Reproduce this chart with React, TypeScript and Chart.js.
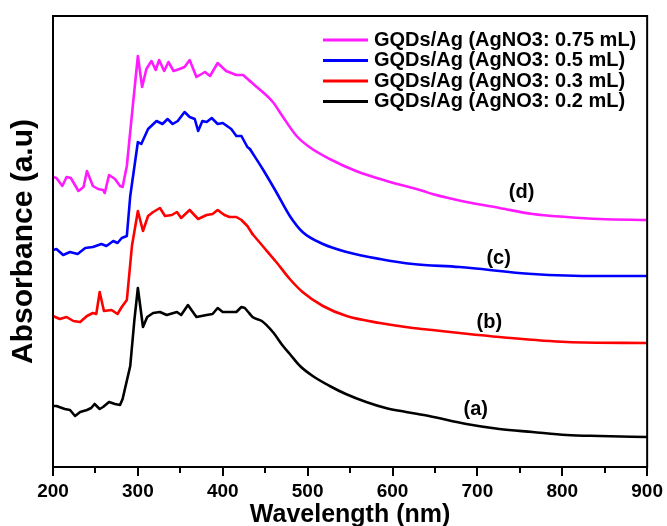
import React, { useEffect, useRef } from 'react';
import { Chart, registerables } from 'chart.js';

Chart.register(...registerables);

const FONT = '"Liberation Sans", Arial, Helvetica, sans-serif';

// x axis ticks (nm)
const majorTicks = [200, 300, 400, 500, 600, 700, 800, 900];
const minorTicks = [250, 350, 450, 550, 650, 750, 850];

// (a) GQDs/Ag (AgNO3: 0.2 mL)
const wlA = [200, 204, 214, 220, 226, 232, 240, 245, 249, 255, 259, 266, 273, 279, 282, 291, 296, 300, 306, 311, 318, 326, 334, 346, 351, 359, 369, 381, 388, 394, 400, 411, 416, 422, 426, 432, 435, 446, 459, 471, 479, 491, 506, 526, 545, 569, 592, 616, 643, 687, 726, 765, 805, 844, 900];
const absA = [0.61, 0.61, 0.58, 0.57, 0.51, 0.55, 0.57, 0.59, 0.63, 0.58, 0.60, 0.65, 0.63, 0.62, 0.68, 1.01, 1.48, 1.79, 1.40, 1.50, 1.54, 1.55, 1.52, 1.55, 1.52, 1.62, 1.50, 1.52, 1.53, 1.59, 1.55, 1.55, 1.55, 1.60, 1.59, 1.53, 1.50, 1.46, 1.35, 1.21, 1.13, 1.01, 0.91, 0.81, 0.73, 0.65, 0.59, 0.55, 0.51, 0.43, 0.38, 0.35, 0.32, 0.31, 0.30];

// (b) GQDs/Ag (AgNO3: 0.3 mL)
const wlB = [200, 208, 216, 224, 232, 240, 247, 251, 255, 260, 269, 276, 281, 287, 293, 300, 306, 312, 318, 326, 332, 340, 346, 351, 361, 371, 381, 388, 394, 402, 408, 416, 422, 429, 435, 447, 463, 479, 494, 518, 546, 585, 624, 647, 679, 726, 805, 900];
const absB = [1.51, 1.48, 1.50, 1.46, 1.45, 1.51, 1.54, 1.53, 1.75, 1.56, 1.57, 1.53, 1.60, 1.67, 2.21, 2.56, 2.36, 2.51, 2.55, 2.59, 2.51, 2.52, 2.55, 2.49, 2.57, 2.48, 2.52, 2.53, 2.57, 2.52, 2.50, 2.50, 2.47, 2.41, 2.33, 2.21, 2.05, 1.88, 1.75, 1.61, 1.51, 1.44, 1.39, 1.37, 1.34, 1.30, 1.25, 1.24];

// (c) GQDs/Ag (AgNO3: 0.5 mL)
const wlC = [200, 204, 212, 220, 229, 238, 247, 257, 263, 271, 276, 281, 287, 291, 300, 304, 312, 322, 329, 335, 341, 347, 355, 361, 367, 371, 376, 381, 387, 394, 400, 410, 416, 422, 429, 432, 447, 463, 479, 494, 518, 546, 585, 624, 679, 765, 844, 900];
const absC = [2.17, 2.18, 2.12, 2.15, 2.13, 2.19, 2.20, 2.23, 2.21, 2.26, 2.24, 2.29, 2.31, 2.71, 3.25, 3.23, 3.38, 3.46, 3.43, 3.48, 3.43, 3.46, 3.55, 3.50, 3.48, 3.36, 3.46, 3.45, 3.49, 3.43, 3.44, 3.38, 3.31, 3.31, 3.20, 3.18, 2.98, 2.75, 2.51, 2.35, 2.23, 2.15, 2.08, 2.03, 2.00, 1.93, 1.91, 1.91];

// (d) GQDs/Ag (AgNO3: 0.75 mL)
const wlD = [200, 204, 211, 216, 221, 230, 236, 240, 247, 253, 259, 261, 266, 273, 279, 282, 287, 294, 300, 305, 310, 316, 321, 325, 331, 336, 342, 349, 355, 361, 369, 379, 385, 394, 404, 416, 424, 432, 440, 447, 459, 471, 487, 502, 526, 557, 593, 636, 647, 687, 726, 765, 805, 844, 900];
const absD = [2.90, 2.89, 2.81, 2.90, 2.89, 2.76, 2.80, 2.96, 2.81, 2.78, 2.77, 2.74, 2.92, 2.88, 2.81, 2.80, 3.01, 3.61, 4.11, 3.80, 3.98, 4.06, 3.97, 4.07, 3.96, 4.05, 3.96, 3.98, 4.00, 4.07, 3.90, 3.95, 3.91, 4.04, 3.96, 3.92, 3.92, 3.86, 3.80, 3.75, 3.65, 3.50, 3.31, 3.20, 3.08, 2.96, 2.86, 2.76, 2.73, 2.65, 2.59, 2.53, 2.50, 2.48, 2.47];

const seriesLabels = [
  'GQDs/Ag (AgNO3: 0.75 mL)',
  'GQDs/Ag (AgNO3: 0.5 mL)',
  'GQDs/Ag (AgNO3: 0.3 mL)',
  'GQDs/Ag (AgNO3: 0.2 mL)',
];
const seriesColors = ['#ff1aff', '#0000ff', '#ff0000', '#000000'];

// the noisy UV part is drawn as a polyline, the smooth tail from here on as a smooth curve
const smoothFromNm = 430;

// curve tags
const tagTexts = ['(d)', '(c)', '(b)', '(a)'];
const tagWl = [752, 725, 714, 698];
const tagAbs = [2.75, 2.09, 1.45, 0.58];

const toPoints = (xs: number[], ys: number[]) => xs.map((x, i) => ({ x, y: ys[i] }));

const framePlugin = {
  id: 'frameAndMinor',
  afterDraw(chart: any) {
    const { ctx, chartArea } = chart;
    const xs = chart.scales.x;
    ctx.save();
    ctx.strokeStyle = '#000';
    ctx.lineWidth = 2;
    ctx.strokeRect(chartArea.left, chartArea.top, chartArea.right - chartArea.left, chartArea.bottom - chartArea.top);
    ctx.beginPath();
    minorTicks.forEach((v) => {
      const px = Math.round(xs.getPixelForValue(v));
      ctx.moveTo(px, chartArea.bottom);
      ctx.lineTo(px, chartArea.bottom + 6);
    });
    ctx.stroke();
    ctx.restore();
  },
};

const legendPlugin = {
  id: 'insideLegend',
  afterDraw(chart: any) {
    const { ctx, chartArea } = chart;
    ctx.save();
    ctx.font = `bold 20px ${FONT}`;
    ctx.textBaseline = 'middle';
    ctx.textAlign = 'left';
    seriesLabels.forEach((label, i) => {
      const y = chartArea.top + 24 + i * 20.5;
      const x0 = chartArea.left + 270;
      ctx.strokeStyle = seriesColors[i];
      ctx.lineWidth = 3;
      ctx.beginPath();
      ctx.moveTo(x0, y);
      ctx.lineTo(x0 + 45, y);
      ctx.stroke();
      ctx.fillStyle = '#000';
      ctx.fillText(label, x0 + 51, y);
    });
    ctx.restore();
  },
};

const tagPlugin = {
  id: 'curveTags',
  afterDraw(chart: any) {
    const { ctx } = chart;
    const xs = chart.scales.x;
    const ys = chart.scales.y;
    ctx.save();
    ctx.font = `bold 20px ${FONT}`;
    ctx.fillStyle = '#000';
    ctx.textAlign = 'center';
    ctx.textBaseline = 'middle';
    tagTexts.forEach((t, i) => {
      ctx.fillText(t, xs.getPixelForValue(tagWl[i]), ys.getPixelForValue(tagAbs[i]));
    });
    ctx.restore();
  },
};

export default function App() {
  const ref = useRef<HTMLCanvasElement | null>(null);
  useEffect(() => {
    if (!ref.current) return;
    const series = [toPoints(wlD, absD), toPoints(wlC, absC), toPoints(wlB, absB), toPoints(wlA, absA)];
    const datasets: any[] = [];
    series.forEach((pts, i) => {
      let k = pts.findIndex((p) => p.x >= smoothFromNm);
      if (k < 0) k = pts.length - 1;
      const common = {
        label: seriesLabels[i],
        borderColor: seriesColors[i],
        backgroundColor: seriesColors[i],
        borderWidth: 2.6,
        borderJoinStyle: 'round',
        borderCapStyle: 'round',
        pointRadius: 0,
        fill: false,
      };
      datasets.push({ ...common, data: pts.slice(0, k + 1), tension: 0 });
      datasets.push({ ...common, data: pts.slice(k), cubicInterpolationMode: 'monotone' });
    });
    const chart = new Chart(ref.current, {
      type: 'line',
      data: { datasets },
      options: {
        responsive: false,
        animation: false,
        parsing: false as any,
        layout: { padding: { top: 16, right: 19, left: 0, bottom: 0 } },
        plugins: {
          legend: { display: false },
          tooltip: { enabled: false },
        },
        scales: {
          x: {
            type: 'linear',
            min: 200,
            max: 900,
            afterFit: (s: any) => { s.height = 59; },
            afterBuildTicks: (s: any) => { s.ticks = majorTicks.map((v) => ({ value: v })); },
            grid: { display: true, drawOnChartArea: false, drawTicks: true, tickLength: 9, color: '#000', lineWidth: 2 },
            border: { display: true, color: '#000', width: 2 },
            ticks: {
              color: '#000',
              font: { family: FONT, size: 19, weight: 'bold' },
              padding: 4,
              maxRotation: 0,
              autoSkip: false,
            },
            title: {
              display: true,
              text: 'Wavelength (nm)',
              color: '#000',
              font: { family: FONT, size: 25, weight: 'bold', lineHeight: 0.84 },
              padding: 0,
            },
          },
          y: {
            type: 'linear',
            min: 0,
            max: 4.51,
            afterFit: (s: any) => { s.width = 53; },
            grid: { display: false },
            border: { display: true, color: '#000', width: 2 },
            ticks: { display: false },
            title: {
              display: true,
              text: 'Absorbance (a.u)',
              color: '#000',
              font: { family: FONT, size: 30, weight: 'bold', lineHeight: 1.2 },
              padding: { top: 6, bottom: 0 },
            },
          },
        },
      },
      plugins: [framePlugin, legendPlugin, tagPlugin],
    });
    return () => chart.destroy();
  }, []);
  return (
    <div style={{ position: 'absolute', left: 0, top: 0, width: 667, height: 526, background: '#fff' }}>
      <canvas ref={ref} width={667} height={526} style={{ display: 'block' }} />
    </div>
  );
}
